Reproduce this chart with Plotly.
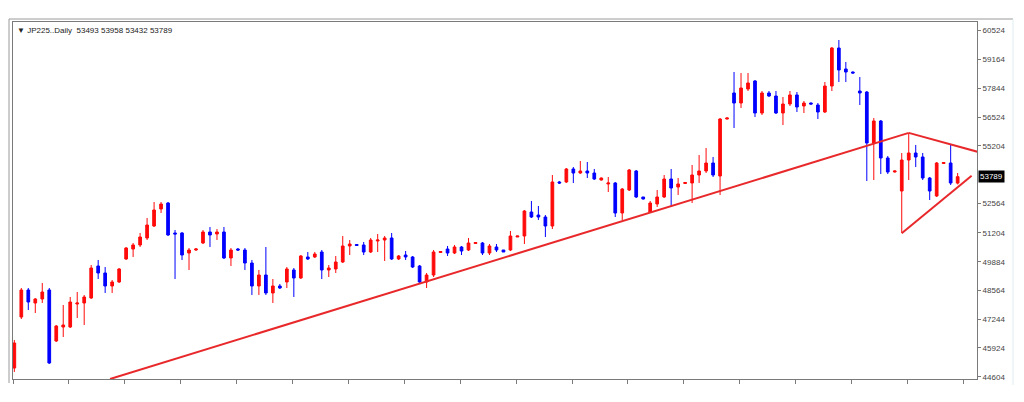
import plotly.graph_objects as go

# ---- Data (JP225 daily candles) ----
opens = [45003, 47345, 48585, 47988, 48172, 48585, 46243, 46886, 46886, 47942,
         47988, 48218, 49687, 49366, 48769, 48953, 50009, 50468, 50652, 50973,
         51524, 52305, 52580, 51203, 51203, 50284, 50422, 50743, 51249, 51157,
         51249, 50055, 50468, 50422, 49825, 48769, 49274, 48448, 48769, 48953,
         49504, 49136, 50101, 50101, 50330, 49504, 49550, 49871, 50606, 50675,
         50652, 50330, 50835, 50881, 50973, 50009, 50192, 50101, 49687, 48953,
         49274, 50307, 50468, 50284, 50560, 50422, 50720, 50743, 50284, 50560,
         50422, 50422, 51019, 51065, 52167, 52029, 51937, 51524, 53545, 53545,
         54142, 53958, 54050, 53958, 53636, 53453, 53499, 52121, 53177, 54050,
         52856, 52167, 52534, 52856, 53682, 53315, 53476, 53499, 53866, 54050,
         54417, 53820, 56437, 57632, 57172, 57815, 58183, 56713, 57632, 57494,
         56713, 57126, 57540, 57035, 57172, 57080, 56759, 57953, 59698, 58734,
         58596, 57723, 57677, 55335, 56346, 54647, 54004, 53131, 54555, 54876,
         54693, 53728, 52902, 54394, 54417, 53493]

highs = [46289, 48677, 48677, 48218, 48907, 48677, 46978, 47896, 48264, 48493,
         48356, 49733, 49963, 49641, 49044, 49595, 50560, 50743, 51203, 51891,
         52626, 52626, 52626, 51340, 51249, 50514, 50514, 51340, 51478, 51386,
         51478, 50514, 50514, 50514, 49963, 49504, 50560, 49090, 48861, 49641,
         49595, 50192, 50330, 50330, 50422, 49733, 50147, 51065, 50881, 50697,
         50789, 50973, 51157, 51065, 51203, 50192, 50376, 50147, 49733, 49366,
         50422, 50376, 50606, 50652, 50606, 50973, 50789, 50789, 50697, 50697,
         50422, 51295, 51065, 52259, 52672, 52442, 52029, 53866, 53591, 54187,
         54233, 54509, 54463, 54142, 53751, 53774, 53545, 53269, 54142, 54096,
         52856, 52672, 53177, 53866, 54142, 53728, 53545, 54325, 54784, 55106,
         54693, 56483, 56506, 58596, 58550, 58550, 58228, 57723, 57723, 57723,
         57448, 57723, 57677, 57264, 57195, 57172, 58137, 59744, 60065, 59055,
         58619, 58366, 57723, 56483, 56392, 54739, 54073, 54876, 55795, 55244,
         54876, 53774, 54463, 54463, 55244, 53958]

lows = [44820, 47253, 47667, 47529, 47988, 45187, 46197, 46427, 46840, 47299,
        46978, 48172, 49090, 48448, 48448, 48907, 49963, 50101, 50560, 50881,
        51478, 52121, 51065, 49090, 49963, 49504, 50376, 50697, 50560, 50881,
        50009, 49687, 50376, 49504, 48356, 48356, 48356, 47988, 48631, 48677,
        48264, 49090, 49963, 50055, 49090, 49182, 49366, 49825, 50192, 50606,
        50192, 50284, 50330, 49917, 49963, 49963, 49963, 49595, 48907, 48677,
        49182, 50284, 50147, 50238, 50192, 50376, 50697, 50192, 50192, 50330,
        50330, 50376, 51019, 50697, 51891, 51800, 51019, 51386, 53453, 53499,
        53499, 53912, 53728, 53636, 53613, 53085, 51937, 51800, 53131, 52810,
        52741, 52121, 52397, 52810, 52397, 52948, 53453, 52580, 53499, 53958,
        53774, 52948, 56415, 56024, 56943, 57723, 56529, 56621, 57448, 56667,
        56162, 57035, 56759, 56713, 57103, 56437, 56713, 57723, 58137, 58137,
        58527, 57080, 53590, 53636, 53912, 53912, 53981, 51203, 53636, 54233,
        53636, 52718, 52856, 54371, 53407, 53432]

closes = [46151, 48585, 48034, 48172, 48493, 45233, 46932, 46978, 48034, 47988,
          48264, 49595, 49366, 48769, 48953, 49550, 50514, 50652, 51019, 51570,
          52259, 52534, 51111, 51157, 50192, 50422, 50468, 51249, 51111, 51249,
          50055, 50422, 50422, 49825, 48769, 49274, 48448, 48769, 48677, 49550,
          49136, 50147, 50009, 50238, 49504, 49595, 49871, 50606, 50697, 50629,
          50330, 50881, 50881, 50973, 50009, 50147, 50101, 49641, 48953, 49274,
          50330, 50353, 50284, 50560, 50376, 50743, 50766, 50284, 50606, 50422,
          50330, 51065, 51065, 52213, 51937, 51937, 51524, 53545, 53499, 54142,
          53958, 54050, 53958, 53682, 53728, 53499, 52121, 53223, 54096, 52856,
          52764, 52580, 52856, 53682, 53269, 53453, 53522, 53866, 54050, 54417,
          53866, 56437, 56483, 57172, 57861, 58091, 56713, 57632, 57494, 56713,
          57126, 57540, 56989, 57172, 57126, 56759, 57953, 59698, 58688, 58596,
          58550, 57632, 55335, 56346, 54647, 54004, 54050, 54555, 54876, 54693,
          53728, 53131, 54417, 54440, 53499, 53789]

bars = list(range(len(opens)))

# Trend lines (bar index, price)
support_x = [13.7, 128.0]
support_y = [44498, 55800]
upper_x = [128.0, 138.0]
upper_y = [55800, 54918]
lower_x = [127.0, 137.0]
lower_y = [51190, 53834]

y_ticks = [60524, 59164, 57844, 56524, 55204, 52564, 51204, 49884, 48564, 47244, 45924, 44604]
x_ticks = [-0.19 + 8 * k for k in range(18)]

title_text = "\u25bc JP225..Daily  53493 53958 53432 53789"
last_price = "53789"

RED = "#ff0a0a"
BLUE = "#0000ff"
LINE_RED = "#e8282a"
FONT = "Liberation Sans"

fig = go.Figure()
fig.add_trace(go.Candlestick(
    x=bars, open=opens, high=highs, low=lows, close=closes,
    increasing=dict(line=dict(color=RED, width=1), fillcolor=RED),
    decreasing=dict(line=dict(color=BLUE, width=1), fillcolor=BLUE),
    whiskerwidth=0, showlegend=False,
))
for xs, ys in [(support_x, support_y), (upper_x, upper_y), (lower_x, lower_y)]:
    fig.add_trace(go.Scatter(x=xs, y=ys, mode="lines",
                             line=dict(color=LINE_RED, width=2),
                             showlegend=False, hoverinfo="skip", cliponaxis=True))

L, R, T, B = 13, 47, 22, 23
W, H = 1024, 402
pw, ph = W - L - R, H - T - B

def px(xp):
    return (xp - L) / pw

def py(yp):
    return (H - B - yp) / ph

fig.update_layout(
    width=W, height=H,
    margin=dict(l=L, r=R, t=T, b=B, pad=0),
    paper_bgcolor="white", plot_bgcolor="white",
    boxgap=0.45,
    font=dict(family=FONT, size=8, color="#333"),
    xaxis=dict(range=[-0.19, 137.77], rangeslider=dict(visible=False),
               showgrid=False, zeroline=False, showline=True, mirror=True,
               linecolor="#7a7a7a", linewidth=1,
               tickmode="array", tickvals=x_ticks, ticks="outside",
               ticklen=4, tickcolor="#7a7a7a", showticklabels=False),
    yaxis=dict(range=[44498, 60892], side="right",
               showgrid=False, zeroline=False, showline=True, mirror=True,
               linecolor="#7a7a7a", linewidth=1,
               tickmode="array", tickvals=y_ticks,
               ticktext=[str(v) for v in y_ticks],
               ticks="outside", ticklen=3, tickcolor="#7a7a7a",
               tickfont=dict(family=FONT, size=8, color="#444")),
    annotations=[
        dict(text=title_text, xref="paper", yref="paper",
             x=px(15), y=py(30), xanchor="left", yanchor="middle",
             showarrow=False, font=dict(family=FONT, size=8, color="#222")),
        dict(text=last_price, xref="paper", yref="y",
             x=px(978), y=53789, xanchor="left", yanchor="middle",
             showarrow=False, bgcolor="black", borderpad=1,
             font=dict(family=FONT, size=8, color="white")),
    ],
    shapes=[
        dict(type="line", xref="paper", yref="paper",
             x0=px(9), x1=px(1013), y0=py(19), y1=py(19),
             line=dict(color="#9a9a9a", width=1)),
        dict(type="line", xref="paper", yref="paper",
             x0=px(9), x1=px(9), y0=py(19), y1=py(383),
             line=dict(color="#9a9a9a", width=1)),
        dict(type="line", xref="paper", yref="paper",
             x0=px(1013), x1=px(1013), y0=py(19), y1=py(385),
             line=dict(color="#dfeef2", width=1)),
    ],
)

fig.write_html("out.html")
